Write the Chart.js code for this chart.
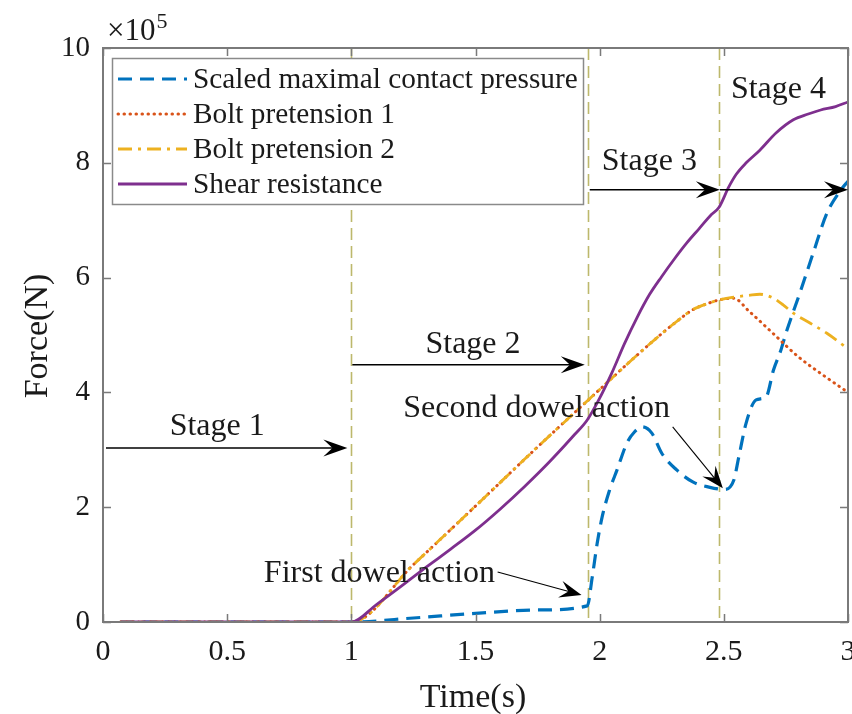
<!DOCTYPE html>
<html>
<head>
<meta charset="utf-8">
<script src="https://cdn.jsdelivr.net/npm/chart.js@4.4.1/dist/chart.umd.min.js"></script>
<style>
  html, body { margin: 0; padding: 0; background: #ffffff; }
  #wrap { width: 852px; height: 714px; }
</style>
</head>
<body>
<div id="wrap"><canvas id="c" width="852" height="714"></canvas></div>
<script>
// ---- data (force values in units of 1e5 N, time in s) ----
const tPressure = [0.07,1.0,1.25,1.5,1.75,1.95,1.97,1.99,2.01,2.04,2.07,2.11,2.14,2.17,2.21,2.25,2.31,2.375,2.44,2.5,2.54,2.56,2.59,2.63,2.67,2.70,2.73,2.75,2.81,2.86,2.915,2.97,3.0];
const pressure  = [0,0,0.07,0.15,0.21,0.28,0.78,1.37,1.83,2.3,2.65,3.12,3.31,3.4,3.29,2.94,2.65,2.44,2.35,2.31,2.47,2.87,3.47,3.87,3.92,4.39,4.74,5.03,5.78,6.43,7.12,7.52,7.68];

const tBolt1 = [0.07,1.0,1.25,1.5,1.75,2.0,2.12,2.23,2.3,2.375,2.43,2.48,2.54,2.6,2.7,2.8,2.9,3.0];
const bolt1  = [0,0,1.0,2.02,3.05,4.05,4.53,4.95,5.2,5.44,5.54,5.61,5.64,5.42,5.02,4.62,4.3,4.0];

const tBolt2 = [0.07,1.0,1.25,1.5,1.75,2.0,2.12,2.23,2.3,2.375,2.43,2.48,2.54,2.6,2.645,2.7,2.74,2.78,2.85,2.915,3.0];
const bolt2  = [0,0,1.0,2.02,3.05,4.05,4.53,4.95,5.2,5.44,5.54,5.61,5.66,5.69,5.71,5.64,5.52,5.38,5.2,5.03,4.76];

const tShear = [0.07,1.0,1.1,1.2,1.3,1.4,1.5,1.6,1.7,1.8,1.9,1.95,2.0,2.05,2.1,2.15,2.2,2.25,2.3,2.35,2.4,2.45,2.48,2.52,2.55,2.59,2.645,2.71,2.78,2.84,2.89,2.95,3.0];
const shear  = [0,0,0.3,0.62,0.95,1.27,1.6,1.97,2.37,2.8,3.27,3.52,3.9,4.35,4.85,5.3,5.7,6.02,6.32,6.6,6.85,7.1,7.22,7.58,7.8,8.0,8.22,8.52,8.75,8.85,8.92,8.98,9.06];

const seriesNames = ['Scaled maximal contact pressure','Bolt pretension 1','Bolt pretension 2','Shear resistance'];
const stageBoundaries = [1.0, 1.955, 2.48];
const stageNames = ['Stage 1','Stage 2','Stage 3','Stage 4'];
const dowelNames = ['First dowel action','Second dowel action'];
const xTickLabels = ['0','0.5','1','1.5','2','2.5','3'];
const yTickLabels = ['0','2','4','6','8','10'];
const axisTitles = ['Time(s)','Force(N)'];
const yExponent = '5';

// ---- annotation placement (data coordinates) ----
const stageTextPos = [[0.46,3.26],[1.49,4.69],[2.2,7.87],[2.72,9.13]];
const stageArrows = [[0.012,0.984,3.03],[1.004,1.94,4.48],[1.96,2.484,7.53],[2.484,3.0,7.53]];
const dowelTextPos = [[1.113,0.70],[1.746,3.57]];
const dowelArrows = [[1.589,0.87,1.927,0.47],[2.294,3.40,2.496,2.33]];

const FONT = '"Liberation Serif", "Times New Roman", serif';
const TXT = '#1a1a1a';
const AXIS = '#7a7a7a';

function pts(t, v) { return t.map((x, i) => ({x: x, y: v[i]})); }

const datasets = [
  {label: seriesNames[0], data: pts(tPressure, pressure), borderColor: '#0072BD', borderWidth: 3.2, borderDash: [14, 8], borderCapStyle: 'butt', order: 4},
  {label: seriesNames[1], data: pts(tBolt1, bolt1), borderColor: '#D95319', borderWidth: 3, borderDash: [0.5, 5.5], borderCapStyle: 'round', order: 3},
  {label: seriesNames[2], data: pts(tBolt2, bolt2), borderColor: '#EDB120', borderWidth: 2.8, borderDash: [14, 6, 3, 6], borderCapStyle: 'butt', order: 2},
  {label: seriesNames[3], data: pts(tShear, shear), borderColor: '#7E2F8E', borderWidth: 2.8, borderDash: [], borderCapStyle: 'butt', order: 1}
].map(d => Object.assign(d, {pointRadius: 0, fill: false, cubicInterpolationMode: 'monotone', borderJoinStyle: 'round'}));

function arrowHead(ctx, x0, y0, x1, y1, len, halfW) {
  const a = Math.atan2(y1 - y0, x1 - x0);
  const c = Math.cos(a), s = Math.sin(a);
  const P = (u, w) => [x1 + u * c - w * s, y1 + u * s + w * c];
  const p1 = P(-len, halfW), p2 = P(-len * 0.62, 0), p3 = P(-len, -halfW);
  ctx.beginPath();
  ctx.moveTo(x1, y1);
  ctx.lineTo(p1[0], p1[1]);
  ctx.lineTo(p2[0], p2[1]);
  ctx.lineTo(p3[0], p3[1]);
  ctx.closePath();
  ctx.fill();
}
function arrow(ctx, x0, y0, x1, y1, lw, len, halfW) {
  const a = Math.atan2(y1 - y0, x1 - x0);
  ctx.save();
  ctx.strokeStyle = '#000'; ctx.fillStyle = '#000'; ctx.lineWidth = lw; ctx.setLineDash([]);
  ctx.beginPath();
  ctx.moveTo(x0, y0);
  ctx.lineTo(x1 - Math.cos(a) * len * 0.6, y1 - Math.sin(a) * len * 0.6);
  ctx.stroke();
  arrowHead(ctx, x0, y0, x1, y1, len, halfW);
  ctx.restore();
}

const decor = {
  id: 'decor',
  beforeDatasetsDraw(chart) {
    const {ctx, chartArea: ca, scales: {x, y}} = chart;
    ctx.save();
    ctx.strokeStyle = '#BDB86C';
    ctx.lineWidth = 1.6;
    ctx.setLineDash([12, 6]);
    stageBoundaries.forEach(t => {
      const px = Math.round(x.getPixelForValue(t)) + 0.5;
      ctx.beginPath();
      ctx.moveTo(px, y.getPixelForValue(10));
      ctx.lineTo(px, y.getPixelForValue(0));
      ctx.stroke();
    });
    ctx.restore();
  },
  afterDatasetsDraw(chart) {
    const {ctx, chartArea: ca, scales: {x, y}} = chart;
    ctx.save();
    // axes box
    ctx.strokeStyle = AXIS;
    ctx.lineWidth = 2;
    ctx.setLineDash([]);
    ctx.strokeRect(ca.left, ca.top, ca.right - ca.left, ca.bottom - ca.top);
    // inward ticks
    ctx.lineWidth = 1.5;
    const TL = 8;
    x.ticks.forEach(tk => {
      const px = Math.round(x.getPixelForValue(tk.value)) + 0.5;
      ctx.beginPath();
      ctx.moveTo(px, ca.bottom); ctx.lineTo(px, ca.bottom - TL);
      ctx.moveTo(px, ca.top); ctx.lineTo(px, ca.top + TL);
      ctx.stroke();
    });
    y.ticks.forEach(tk => {
      const py = Math.round(y.getPixelForValue(tk.value)) + 0.5;
      ctx.beginPath();
      ctx.moveTo(ca.left, py); ctx.lineTo(ca.left + TL, py);
      ctx.moveTo(ca.right, py); ctx.lineTo(ca.right - TL, py);
      ctx.stroke();
    });

    // axis titles
    ctx.fillStyle = TXT;
    ctx.font = '34px ' + FONT;
    ctx.textAlign = 'center';
    ctx.textBaseline = 'alphabetic';
    ctx.fillText(axisTitles[0], 473, 707);
    ctx.save();
    ctx.translate(47, 336);
    ctx.rotate(-Math.PI / 2);
    ctx.fillText(axisTitles[1], 0, 0);
    ctx.restore();

    // exponent label
    ctx.fillStyle = TXT;
    ctx.textBaseline = 'alphabetic';
    ctx.textAlign = 'left';
    ctx.font = '31px ' + FONT;
    ctx.fillText('\u00d710', ca.left + 4, ca.top - 8);
    const w10 = ctx.measureText('\u00d710').width;
    ctx.font = '22px ' + FONT;
    ctx.fillText(yExponent, ca.left + 4 + w10 + 1, ca.top - 20);

    // legend
    const lx = 112, ly = 58, lw = 471, lh = 146;
    ctx.fillStyle = '#ffffff';
    ctx.fillRect(lx, ly, lw, lh);
    ctx.strokeStyle = '#8a8a8a';
    ctx.lineWidth = 1.5;
    ctx.strokeRect(lx + 0.5, ly + 0.5, lw, lh);
    ctx.font = '29.3px ' + FONT;
    chart.data.datasets.forEach((ds, i) => {
      const yy = 79 + i * 35;
      ctx.save();
      ctx.strokeStyle = ds.borderColor;
      ctx.lineWidth = ds.borderWidth;
      ctx.lineCap = ds.borderCapStyle;
      ctx.setLineDash(ds.borderDash || []);
      ctx.beginPath();
      ctx.moveTo(118, yy); ctx.lineTo(187, yy);
      ctx.stroke();
      ctx.restore();
      ctx.fillStyle = TXT;
      ctx.textAlign = 'left';
      ctx.textBaseline = 'alphabetic';
      ctx.fillText(ds.label, 193, yy + 9);
    });

    // stage arrows & labels
    stageArrows.forEach(a => {
      const yy = y.getPixelForValue(a[2]);
      arrow(ctx, x.getPixelForValue(a[0]), yy, x.getPixelForValue(a[1]), yy, 1.5, 24, 8.5);
    });
    ctx.fillStyle = TXT;
    ctx.font = '32px ' + FONT;
    ctx.textAlign = 'center';
    ctx.textBaseline = 'alphabetic';
    stageNames.forEach((s, i) => {
      ctx.fillText(s, x.getPixelForValue(stageTextPos[i][0]), y.getPixelForValue(stageTextPos[i][1]));
    });
    // dowel annotations
    dowelNames.forEach((s, i) => {
      ctx.fillStyle = TXT;
      ctx.font = '32px ' + FONT;
      ctx.textAlign = 'center';
      ctx.fillText(s, x.getPixelForValue(dowelTextPos[i][0]), y.getPixelForValue(dowelTextPos[i][1]));
      const a = dowelArrows[i];
      arrow(ctx, x.getPixelForValue(a[0]), y.getPixelForValue(a[1]), x.getPixelForValue(a[2]), y.getPixelForValue(a[3]), 1.1, 22, 8.5);
    });
    ctx.restore();
  }
};

new Chart(document.getElementById('c'), {
  type: 'line',
  data: {datasets: datasets},
  plugins: [decor],
  options: {
    responsive: false,
    animation: false,
    devicePixelRatio: 1,
    layout: {padding: {top: 48, right: 4, left: 0, bottom: 0}},
    plugins: {legend: {display: false}, tooltip: {enabled: false}},
    scales: {
      x: {
        type: 'linear', min: 0, max: 3,
        grid: {display: false, drawTicks: false},
        border: {display: false},
        ticks: {
          stepSize: 0.5, padding: 12, color: TXT, maxRotation: 0,
          font: {family: FONT, size: 30},
          callback: (v) => xTickLabels[Math.round(v / 0.5)]
        },
        title: {display: false},
        afterFit: (s) => { s.height = 92; s.paddingLeft = 0; s.paddingRight = 0; }
      },
      y: {
        type: 'linear', min: 0, max: 10,
        grid: {display: false, drawTicks: false},
        border: {display: false},
        ticks: {
          stepSize: 2, padding: 13, color: TXT,
          font: {family: FONT, size: 29},
          callback: (v) => yTickLabels[Math.round(v / 2)]
        },
        title: {display: false},
        afterFit: (s) => { s.width = 103; s.paddingTop = 0; s.paddingBottom = 0; }
      }
    }
  }
});
</script>
</body>
</html>
